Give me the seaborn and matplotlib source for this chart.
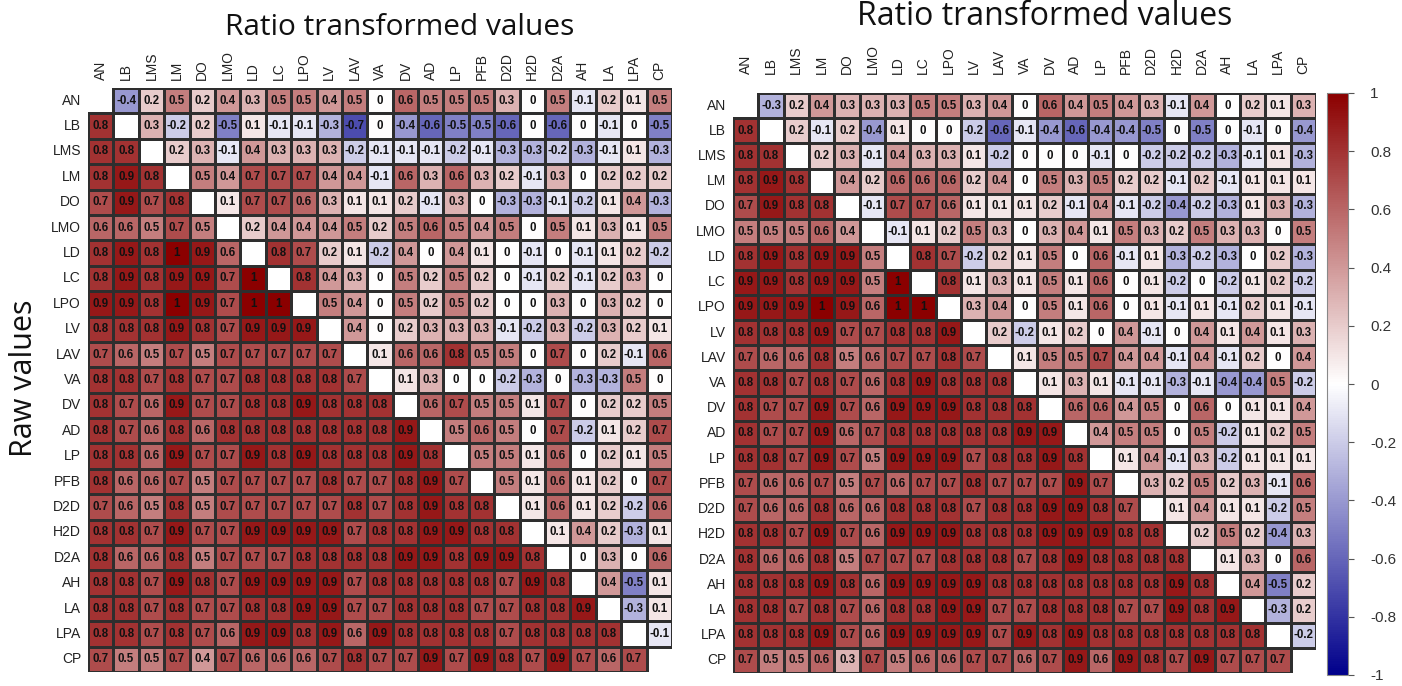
import numpy as np
import pandas as pd
import matplotlib
matplotlib.use("Agg")
import matplotlib.pyplot as plt
from matplotlib.colors import LinearSegmentedColormap, to_rgba
import seaborn as sns

labels = ["AN", "LB", "LMS", "LM", "DO", "LMO", "LD", "LC", "LPO", "LV", "LAV", "VA",
          "DV", "AD", "LP", "PFB", "D2D", "H2D", "D2A", "AH", "LA", "LPA", "CP"]

# Lower triangle, left panel: correlations of raw values (row i, columns 0..i-1)
raw_left = [
    [0.8],
    [0.8, 0.8],
    [0.8, 0.9, 0.8],
    [0.7, 0.9, 0.7, 0.8],
    [0.6, 0.6, 0.5, 0.7, 0.5],
    [0.8, 0.9, 0.8, 1, 0.9, 0.6],
    [0.8, 0.9, 0.8, 0.9, 0.9, 0.7, 1],
    [0.9, 0.9, 0.8, 1, 0.9, 0.7, 1, 1],
    [0.8, 0.8, 0.8, 0.9, 0.8, 0.7, 0.9, 0.9, 0.9],
    [0.7, 0.6, 0.5, 0.7, 0.5, 0.7, 0.7, 0.7, 0.7, 0.7],
    [0.8, 0.8, 0.7, 0.8, 0.7, 0.7, 0.8, 0.8, 0.8, 0.8, 0.7],
    [0.8, 0.7, 0.6, 0.9, 0.7, 0.7, 0.8, 0.8, 0.9, 0.8, 0.8, 0.8],
    [0.8, 0.7, 0.6, 0.8, 0.6, 0.8, 0.8, 0.8, 0.8, 0.8, 0.8, 0.8, 0.9],
    [0.8, 0.8, 0.6, 0.9, 0.7, 0.7, 0.9, 0.8, 0.9, 0.8, 0.8, 0.8, 0.9, 0.8],
    [0.8, 0.6, 0.6, 0.7, 0.5, 0.7, 0.7, 0.7, 0.7, 0.8, 0.7, 0.7, 0.8, 0.9, 0.7],
    [0.7, 0.6, 0.5, 0.8, 0.5, 0.7, 0.7, 0.7, 0.7, 0.7, 0.8, 0.7, 0.8, 0.9, 0.8, 0.8],
    [0.8, 0.8, 0.7, 0.9, 0.7, 0.7, 0.9, 0.9, 0.9, 0.9, 0.7, 0.8, 0.8, 0.9, 0.9, 0.8, 0.8],
    [0.8, 0.6, 0.6, 0.8, 0.5, 0.7, 0.7, 0.7, 0.8, 0.8, 0.8, 0.8, 0.9, 0.9, 0.8, 0.9, 0.9, 0.8],
    [0.8, 0.8, 0.7, 0.9, 0.8, 0.7, 0.9, 0.9, 0.9, 0.9, 0.7, 0.8, 0.8, 0.8, 0.8, 0.8, 0.7, 0.9, 0.8],
    [0.8, 0.8, 0.7, 0.8, 0.7, 0.7, 0.8, 0.8, 0.9, 0.9, 0.7, 0.7, 0.8, 0.8, 0.8, 0.7, 0.7, 0.8, 0.8, 0.9],
    [0.8, 0.8, 0.7, 0.8, 0.7, 0.6, 0.9, 0.9, 0.8, 0.9, 0.6, 0.9, 0.8, 0.8, 0.8, 0.8, 0.7, 0.8, 0.8, 0.8, 0.8],
    [0.7, 0.5, 0.5, 0.7, 0.4, 0.7, 0.6, 0.6, 0.6, 0.7, 0.8, 0.7, 0.7, 0.9, 0.7, 0.9, 0.8, 0.7, 0.9, 0.7, 0.6, 0.7],
]

# Upper triangle, left panel: correlations of ratio transformed values (row i, columns i+1..)
ratio_left = [
    [-0.4, 0.2, 0.5, 0.2, 0.4, 0.3, 0.5, 0.5, 0.4, 0.5, 0, 0.6, 0.5, 0.5, 0.5, 0.3, 0, 0.5, -0.1, 0.2, 0.1, 0.5],
    [0.3, -0.2, 0.2, -0.5, 0.1, -0.1, -0.1, -0.3, -0.7, 0, -0.4, -0.6, -0.5, -0.5, -0.6, 0, -0.6, 0, -0.1, 0, -0.5],
    [0.2, 0.3, -0.1, 0.4, 0.3, 0.3, 0.3, -0.2, -0.1, -0.1, -0.1, -0.2, -0.1, -0.3, -0.3, -0.2, -0.3, -0.1, 0.1, -0.3],
    [0.5, 0.4, 0.7, 0.7, 0.7, 0.4, 0.4, -0.1, 0.6, 0.3, 0.6, 0.3, 0.2, -0.1, 0.3, 0, 0.2, 0.2, 0.2],
    [0.1, 0.7, 0.7, 0.6, 0.3, 0.1, 0.1, 0.2, -0.1, 0.3, 0, -0.3, -0.3, -0.1, -0.2, 0.1, 0.4, -0.3],
    [0.2, 0.4, 0.4, 0.4, 0.5, 0.2, 0.5, 0.6, 0.5, 0.4, 0.5, 0, 0.5, 0.1, 0.3, 0.1, 0.5],
    [0.8, 0.7, 0.2, 0.1, -0.2, 0.4, 0, 0.4, 0.1, 0, -0.1, 0, -0.1, 0.1, 0.2, -0.2],
    [0.8, 0.4, 0.3, 0, 0.5, 0.2, 0.5, 0.2, 0, -0.1, 0.2, -0.1, 0.2, 0.3, 0],
    [0.5, 0.4, 0, 0.5, 0.2, 0.5, 0.2, 0, 0, 0.3, 0, 0.3, 0.2, 0],
    [0.4, 0, 0.2, 0.3, 0.3, 0.3, -0.1, -0.2, 0.3, -0.2, 0.3, 0.2, 0.1],
    [0.1, 0.6, 0.6, 0.8, 0.5, 0.5, 0, 0.7, 0, 0.2, -0.1, 0.6],
    [0.1, 0.3, 0, 0, -0.2, -0.3, 0, -0.3, -0.3, 0.5, 0],
    [0.6, 0.7, 0.5, 0.5, 0.1, 0.7, 0, 0.2, 0.2, 0.5],
    [0.5, 0.6, 0.5, 0, 0.7, -0.2, 0.1, 0.2, 0.7],
    [0.5, 0.5, 0.1, 0.6, 0, 0.2, 0.1, 0.5],
    [0.5, 0.1, 0.6, 0.1, 0.2, 0, 0.7],
    [0.1, 0.6, 0.1, 0.2, -0.2, 0.6],
    [0.1, 0.4, 0.2, -0.3, 0.1],
    [0, 0.3, 0, 0.6],
    [0.4, -0.5, 0.1],
    [-0.3, 0.1],
    [-0.1],
]

# Lower triangle, right panel
raw_right = [
    [0.8],
    [0.8, 0.8],
    [0.8, 0.9, 0.8],
    [0.7, 0.9, 0.8, 0.8],
    [0.5, 0.5, 0.5, 0.6, 0.4],
    [0.8, 0.9, 0.8, 0.9, 0.9, 0.5],
    [0.9, 0.9, 0.8, 0.9, 0.9, 0.5, 1],
    [0.9, 0.9, 0.9, 1, 0.9, 0.6, 1, 1],
    [0.8, 0.8, 0.8, 0.9, 0.7, 0.7, 0.8, 0.8, 0.9],
    [0.7, 0.6, 0.6, 0.8, 0.5, 0.6, 0.7, 0.7, 0.8, 0.7],
    [0.8, 0.8, 0.7, 0.8, 0.7, 0.6, 0.8, 0.9, 0.8, 0.8, 0.8],
    [0.8, 0.7, 0.7, 0.9, 0.7, 0.6, 0.9, 0.9, 0.9, 0.8, 0.8, 0.8],
    [0.8, 0.7, 0.7, 0.9, 0.6, 0.7, 0.8, 0.8, 0.8, 0.8, 0.8, 0.9, 0.9],
    [0.8, 0.8, 0.7, 0.9, 0.7, 0.5, 0.9, 0.9, 0.9, 0.7, 0.8, 0.8, 0.9, 0.8],
    [0.7, 0.6, 0.6, 0.7, 0.5, 0.7, 0.6, 0.7, 0.7, 0.8, 0.7, 0.7, 0.7, 0.9, 0.7],
    [0.7, 0.6, 0.6, 0.8, 0.6, 0.6, 0.8, 0.8, 0.8, 0.7, 0.8, 0.8, 0.9, 0.9, 0.8, 0.7],
    [0.8, 0.8, 0.7, 0.9, 0.7, 0.6, 0.9, 0.9, 0.9, 0.8, 0.8, 0.8, 0.9, 0.9, 0.9, 0.8, 0.8],
    [0.8, 0.6, 0.6, 0.8, 0.5, 0.7, 0.7, 0.7, 0.8, 0.8, 0.8, 0.7, 0.8, 0.9, 0.8, 0.8, 0.8, 0.8],
    [0.8, 0.8, 0.8, 0.9, 0.8, 0.6, 0.9, 0.9, 0.9, 0.9, 0.8, 0.8, 0.8, 0.8, 0.8, 0.8, 0.8, 0.9, 0.8],
    [0.8, 0.8, 0.7, 0.8, 0.7, 0.6, 0.8, 0.8, 0.9, 0.9, 0.7, 0.7, 0.8, 0.8, 0.8, 0.7, 0.7, 0.9, 0.8, 0.9],
    [0.8, 0.8, 0.8, 0.9, 0.7, 0.6, 0.9, 0.9, 0.9, 0.9, 0.7, 0.9, 0.8, 0.9, 0.8, 0.8, 0.8, 0.8, 0.8, 0.8, 0.8],
    [0.7, 0.5, 0.5, 0.6, 0.3, 0.7, 0.5, 0.6, 0.6, 0.7, 0.7, 0.6, 0.7, 0.9, 0.6, 0.9, 0.8, 0.7, 0.9, 0.7, 0.7, 0.7],
]

# Upper triangle, right panel
ratio_right = [
    [-0.3, 0.2, 0.4, 0.3, 0.3, 0.3, 0.5, 0.5, 0.3, 0.4, 0, 0.6, 0.4, 0.5, 0.4, 0.3, -0.1, 0.4, 0, 0.2, 0.1, 0.3],
    [0.2, -0.1, 0.2, -0.4, 0.1, 0, 0, -0.2, -0.6, -0.1, -0.4, -0.6, -0.4, -0.4, -0.5, 0, -0.5, 0, -0.1, 0, -0.4],
    [0.2, 0.3, -0.1, 0.4, 0.3, 0.3, 0.1, -0.2, 0, 0, 0, -0.1, 0, -0.2, -0.2, -0.2, -0.3, -0.1, 0.1, -0.3],
    [0.4, 0.2, 0.6, 0.6, 0.6, 0.2, 0.4, 0, 0.5, 0.3, 0.5, 0.2, 0.2, -0.1, 0.2, -0.1, 0.1, 0.1, 0.1],
    [-0.1, 0.7, 0.7, 0.6, 0.1, 0.1, 0.1, 0.2, -0.1, 0.4, -0.1, -0.2, -0.4, -0.2, -0.3, 0.1, 0.3, -0.3],
    [-0.1, 0.1, 0.2, 0.5, 0.3, 0, 0.3, 0.4, 0.1, 0.5, 0.3, 0.2, 0.5, 0.3, 0.3, 0, 0.5],
    [0.8, 0.7, -0.2, 0.2, 0.1, 0.5, 0, 0.6, -0.1, 0.1, -0.3, -0.2, -0.3, 0, 0.2, -0.3],
    [0.8, 0.1, 0.3, 0.1, 0.5, 0.1, 0.6, 0, 0.1, -0.2, 0, -0.2, 0.1, 0.2, -0.2],
    [0.3, 0.4, 0, 0.5, 0.1, 0.6, 0, 0.1, -0.1, 0.1, -0.1, 0.2, 0.1, -0.1],
    [0.2, -0.2, 0.1, 0.2, 0, 0.4, -0.1, 0, 0.4, 0.1, 0.4, 0.1, 0.3],
    [0.1, 0.5, 0.5, 0.7, 0.4, 0.4, -0.1, 0.4, -0.1, 0.2, 0, 0.4],
    [0.1, 0.3, 0.1, -0.1, -0.1, -0.3, -0.1, -0.4, -0.4, 0.5, -0.2],
    [0.6, 0.6, 0.4, 0.5, 0, 0.6, 0, 0.1, 0.1, 0.4],
    [0.4, 0.5, 0.5, 0, 0.5, -0.2, 0.1, 0.2, 0.5],
    [0.1, 0.4, -0.1, 0.3, -0.2, 0.1, 0.1, 0.1],
    [0.3, 0.2, 0.5, 0.2, 0.3, -0.1, 0.6],
    [0.1, 0.4, 0.1, 0.1, -0.2, 0.5],
    [0.2, 0.5, 0.2, -0.4, 0.3],
    [0.1, 0.3, 0, 0.6],
    [0.4, -0.5, 0.2],
    [-0.3, 0.2],
    [-0.2],
]

cbar_ticks = [1, 0.8, 0.6, 0.4, 0.2, 0, -0.2, -0.4, -0.6, -0.8, -1]


def combine(lower, upper):
    n = len(labels)
    m = np.full((n, n), np.nan)
    for i, row in enumerate(lower, start=1):
        m[i, :i] = row
    for i, row in enumerate(upper):
        m[i, i + 1:] = row
    return pd.DataFrame(m, index=labels, columns=labels)


def label_text(v):
    if np.isnan(v):
        return ""
    if abs(v) < 1e-9:
        return "0"
    if float(v).is_integer():
        return str(int(v))
    return f"{v:g}"


sns.set_style("white")
plt.rcParams["font.family"] = ["Liberation Sans", "DejaVu Sans"]

cmap = LinearSegmentedColormap.from_list("bwr_dark", ["#00008B", "#FFFFFF", "#8B0000"])
grid_color = "#2e2e2e"

W, H = 1402, 686
fig = plt.figure(figsize=(W / 100, H / 100), dpi=100)
ax_left = fig.add_axes([88 / W, 1 - 672 / H, 584 / W, 584 / H])
ax_right = fig.add_axes([733 / W, 1 - 673 / H, 583 / W, 580 / H])
cax = fig.add_axes([1327 / W, 1 - 675 / H, 21 / W, 582 / H])

annot_kws = dict(fontsize=8.3, fontweight="bold", color="#111111")

for ax, lower, upper, with_cbar in [
    (ax_left, raw_left, ratio_left, False),
    (ax_right, raw_right, ratio_right, True),
]:
    df = combine(lower, upper)
    annot = df.map(label_text).values
    sns.heatmap(
        df, ax=ax, cmap=cmap, vmin=-1, vmax=1,
        annot=annot, fmt="", annot_kws=annot_kws,
        linewidths=0.8, linecolor=grid_color,
        cbar=with_cbar, cbar_ax=cax if with_cbar else None,
        square=False,
    )
    # empty diagonal cells get no outline of their own
    mesh = ax.collections[0]
    empty = np.isnan(df.values).ravel()
    edges = np.tile(to_rgba(grid_color), (empty.size, 1))
    edges[empty] = (0, 0, 0, 0)
    mesh.set_edgecolors(edges)

    for spine in ax.spines.values():
        spine.set_visible(False)
    ax.xaxis.tick_top()
    ax.set_xticks(np.arange(len(labels)) + 0.5)
    ax.set_xticklabels(labels, rotation=90, fontsize=10, color="#222222")
    ax.set_yticks(np.arange(len(labels)) + 0.5)
    ax.set_yticklabels(labels, rotation=0, fontsize=10, color="#222222")
    ax.tick_params(axis="both", length=0)
    ax.tick_params(axis="x", pad=6)
    ax.tick_params(axis="y", pad=5)
    ax.set_xlabel("")
    ax.set_ylabel("")

ax_right.tick_params(axis="x", pad=14)

cbar = ax_right.collections[0].colorbar
cbar.set_ticks(cbar_ticks)
cbar.set_ticklabels([label_text(t) for t in cbar_ticks])
cbar.ax.tick_params(labelsize=11, length=4, width=0.8, color="#555555", labelcolor="#333333", pad=12)
cbar.outline.set_visible(True)
cbar.outline.set_edgecolor("#888888")
cbar.outline.set_linewidth(0.8)

fig.text(400 / W, 1 - 35 / H, "Ratio transformed values", ha="center", va="baseline",
         fontsize=21.5, family="Open Sans", color="#111111")
fig.text(1045 / W, 1 - 25 / H, "Ratio transformed values", ha="center", va="baseline",
         fontsize=23, family="Open Sans", color="#111111")
fig.text(24 / W, 1 - 378 / H, "Raw values", ha="center", va="center", rotation=90,
         fontsize=22, family="Open Sans", color="#111111")

fig.savefig("out.png", dpi=100, facecolor="white")
